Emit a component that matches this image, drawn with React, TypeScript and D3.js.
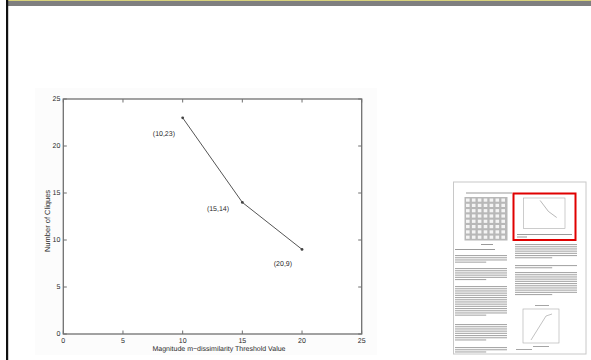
import React from "react";
import * as d3 from "d3";

// Main chart data
const thresholds = [10, 15, 20];
const cliques = [23, 14, 9];
const pointLabels = ["(10,23)", "(15,14)", "(20,9)"];
// label anchors in data units (MATLAB text() style annotations)
const labelX = [8.43, 12.96, 18.4];
const labelY = [21.3, 13.3, 7.45];
const xTicks = [0, 5, 10, 15, 20, 25];
const yTicks = [0, 5, 10, 15, 20, 25];
const xTitle = "Magnitude m\u2212dissimilarity Threshold Value";
const yTitle = "Number of Cliques";

// Thumbnail decoration (paper page) text blocks: [x, y, width, lines]
const leftBlocks = [
  [455, 255, 52, 4],
  [455, 268, 52, 6],
  [455, 286, 52, 14],
  [455, 324, 52, 8],
  [455, 347, 52, 3],
];
const rightBlocks = [
  [515, 244, 62, 7],
  [515, 265, 62, 2],
  [515, 272, 62, 11],
];

const W = 591;
const H = 360;

export default function App() {
  const x = d3.scaleLinear().domain([0, 25]).range([63.3, 361.7]);
  const y = d3.scaleLinear().domain([0, 25]).range([334, 99]);
  const line = d3
    .line<number>()
    .x((_, i) => x(thresholds[i]))
    .y((d) => y(d));
  const [x0, x1] = x.range();
  const [yb, yt] = y.range();
  const axisColor = "#707070";
  const textColor = "#2a2a2a";
  const tick = 3.5;

  // mini chart inside red box
  const mx = d3.scaleLinear().domain([0, 25]).range([523.5, 565]);
  const my = d3.scaleLinear().domain([0, 25]).range([228.5, 198]);
  const miniLine = d3
    .line<number>()
    .x((_, i) => mx(thresholds[i]))
    .y((d) => my(d));

  const textLines = (b: number[], key: string) => {
    const [bx, by, bw, n] = b;
    return d3.range(n).map((i) => (
      <rect
        key={key + i}
        x={bx}
        y={by + i * 2.2}
        width={i === n - 1 ? bw * 0.6 : bw}
        height={1.1}
        fill="#a8a8a8"
      />
    ));
  };

  return (
    <svg
      width={W}
      height={H}
      style={{ position: "absolute", left: 0, top: 0, background: "#fff" }}
      fontFamily="'Liberation Sans', Arial, sans-serif"
      textRendering="geometricPrecision"
    >
      <rect x={0} y={0} width={W} height={H} fill="#fff" />
      {/* slide chrome */}
      <rect x={6} y={0} width={W - 6} height={1} fill="#d8d27a" />
      <rect x={6} y={1} width={W - 6} height={5} fill="#7f7f7f" />
      <rect x={6} y={0} width={2.2} height={H} fill="#111" />

      {/* figure image background */}
      <rect x={35} y={88} width={342} height={267} fill="#fcfcfc" />

      {/* axes box */}
      <rect
        x={x0}
        y={yt}
        width={x1 - x0}
        height={yb - yt}
        fill="#fff"
        stroke={axisColor}
        strokeWidth={1.3}
      />
      {xTicks.map((t) => (
        <g key={"xt" + t}>
          <line x1={x(t)} x2={x(t)} y1={yb} y2={yb - tick} stroke={axisColor} />
          <line x1={x(t)} x2={x(t)} y1={yt} y2={yt + tick} stroke={axisColor} />
          <text
            x={x(t)}
            y={yb + 9}
            fontSize={7}
            textAnchor="middle"
            fill={textColor}
          >
            {t}
          </text>
        </g>
      ))}
      {yTicks.map((t) => (
        <g key={"yt" + t}>
          <line x1={x0} x2={x0 + tick} y1={y(t)} y2={y(t)} stroke={axisColor} />
          <line x1={x1} x2={x1 - tick} y1={y(t)} y2={y(t)} stroke={axisColor} />
          <text
            x={x0 - 3}
            y={y(t)}
            fontSize={7}
            textAnchor="end"
            dominantBaseline="middle"
            fill={textColor}
          >
            {t}
          </text>
        </g>
      ))}
      <text
        x={219}
        y={yb + 17}
        fontSize={7}
        textAnchor="middle"
        fill={textColor}
      >
        {xTitle}
      </text>
      <text
        transform={`translate(48,${221}) rotate(-90)`}
        fontSize={7.5}
        textAnchor="middle"
        dominantBaseline="middle"
        fill={textColor}
      >
        {yTitle}
      </text>

      {/* data line */}
      <path d={line(cliques) || ""} fill="none" stroke="#555" strokeWidth={1} />
      {cliques.map((c, i) => (
        <circle key={"p" + i} cx={x(thresholds[i])} cy={y(c)} r={1.4} fill="#444" />
      ))}
      {pointLabels.map((l, i) => (
        <text
          key={"l" + i}
          x={x(labelX[i])}
          y={y(labelY[i])}
          fontSize={7}
          textAnchor="middle"
          dominantBaseline="middle"
          fill={textColor}
        >
          {l}
        </text>
      ))}

      {/* paper thumbnail */}
      <defs>
        <filter id="soft" x="-5%" y="-5%" width="110%" height="110%">
          <feGaussianBlur stdDeviation="0.6" />
        </filter>
      </defs>
      <rect x={453.5} y={182} width={132.5} height={172} fill="#fff" stroke="#c8c8c8" strokeWidth={1} />
      <g filter="url(#soft)">
        {/* header */}
        <rect x={466} y={192.5} width={46} height={1} fill="#9a9a9a" />
        {/* table */}
        <rect x={464.5} y={197} width={43} height={43.5} fill="#b8b8b8" />
        {d3.range(8).map((r) =>
          d3.range(7).map((c) => (
            <rect
              key={`c${r}-${c}`}
              x={466 + c * 5.9}
              y={198.5 + r * 5.3}
              width={3.6}
              height={3.2}
              fill="#f4f4f4"
            />
          ))
        )}
        <rect x={481} y={244} width={12} height={1} fill="#9a9a9a" />
        <rect x={455} y={249} width={40} height={1} fill="#9a9a9a" />
        {leftBlocks.map((b, i) => textLines(b, "lb" + i))}
        {rightBlocks.map((b, i) => textLines(b, "rb" + i))}
        {/* mini chart inside red box */}
        <rect x={523.5} y={198} width={41.5} height={30.5} fill="none" stroke="#aaa" strokeWidth={0.6} />
        <path d={miniLine(cliques) || ""} fill="none" stroke="#888" strokeWidth={0.6} />
        <rect x={517} y={234} width={55} height={1} fill="#9a9a9a" />
        <rect x={517} y={236.5} width={10} height={1} fill="#9a9a9a" />
        {/* second mini chart */}
        <rect x={523} y={309} width={36} height={34} fill="none" stroke="#aaa" strokeWidth={0.6} />
        <path d="M531,340 L546,316 L552,314" fill="none" stroke="#999" strokeWidth={0.6} />
        <rect x={535} y={305} width={14} height={1} fill="#a5a5a5" />
        <rect x={533} y={346} width={16} height={1} fill="#a5a5a5" />
        <rect x={516} y={349} width={16} height={1} fill="#a5a5a5" />
      </g>
      <rect x={513.5} y={193.5} width={62} height={46.5} fill="none" stroke="#e00000" strokeWidth={2} />
    </svg>
  );
}
